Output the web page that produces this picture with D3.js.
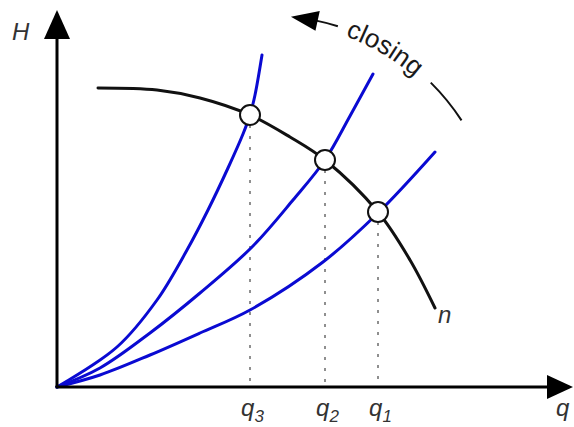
<!DOCTYPE html>
<html>
<head>
<meta charset="utf-8">
<script src="https://cdn.jsdelivr.net/npm/d3@7"></script>
<style>
  html, body { margin: 0; padding: 0; background: #fff; }
  svg { display: block; }
  text { font-family: "Liberation Sans", Arial, Helvetica, sans-serif; font-style: italic; fill: #333; }
</style>
</head>
<body>
<svg id="chart" width="574" height="427"></svg>
<script>
// ---- data (q, H) in arbitrary chart units ----
const pumpCurve = [[41,299],[100,297],[143,289],[193,272],[233,250],[268,227],[321,175],[353,127],[378,79]];
const system3 = [[0,0],[60,40],[100,87],[130,137],[151,177],[171,219],[186,253],[193,272],[198,292],[205,332]];
const system2 = [[0,0],[43,19],[93,54],[143,94],[195,140],[236,187],[268,227],[293,271],[316,313]];
const system1 = [[0,0],[43,12],[93,32],[143,54],[193,77],[266,125],[321,174],[378,235]];
const opQ = [193, 268, 321];
const opH = [272, 227, 175];
const opLabels = ["3", "2", "1"];
const axisLabels = { x: "q", y: "H" };
const curveLabel = "n";
const closingLabel = "closing";

const svg = d3.select("#chart");
const x = d3.scaleLinear().domain([0, 500]).range([57, 557]);
const y = d3.scaleLinear().domain([0, 350]).range([387, 37]);

const line = d3.line().x(d => x(d[0])).y(d => y(d[1])).curve(d3.curveCatmullRom.alpha(0.5));

// dotted guides
opQ.forEach((q, i) => {
  svg.append("line")
    .attr("x1", x(q)).attr("x2", x(q))
    .attr("y1", y(opH[i]) + 10).attr("y2", y(0) - 2)
    .attr("stroke", "#8f8f8f").attr("stroke-width", 2)
    .attr("stroke-dasharray", "3,8");
});

// system curves
[system1, system2, system3].forEach(s => {
  svg.append("path").attr("d", line(s))
    .attr("fill", "none").attr("stroke", "#0a0ad2").attr("stroke-width", 3)
    .attr("stroke-linecap", "round");
});

// pump curve
svg.append("path").attr("d", line(pumpCurve))
  .attr("fill", "none").attr("stroke", "#111").attr("stroke-width", 3)
  .attr("stroke-linecap", "round");

// axes
svg.append("line").attr("x1", x(0)).attr("y1", y(0)).attr("x2", x(0)).attr("y2", y(348))
  .attr("stroke", "#000").attr("stroke-width", 3);
svg.append("line").attr("x1", x(0) - 1.5).attr("y1", y(0)).attr("x2", x(490)).attr("y2", y(0))
  .attr("stroke", "#000").attr("stroke-width", 3);
svg.append("path").attr("d", `M${x(0)},${y(377)} L${x(0)-13},${y(348)} L${x(0)+13},${y(348)} Z`).attr("fill", "#000");
svg.append("path").attr("d", `M${x(516)},${y(0)} L${x(490)},${y(0)-12} L${x(490)},${y(0)+12} Z`).attr("fill", "#000");

// operating points
opQ.forEach((q, i) => {
  svg.append("circle").attr("cx", x(q)).attr("cy", y(opH[i])).attr("r", 10)
    .attr("fill", "#fff").attr("stroke", "#111").attr("stroke-width", 2);
});

// q labels
opQ.forEach((q, i) => {
  const t = svg.append("text").attr("x", x(q) + 2.5).attr("y", 416)
    .attr("text-anchor", "middle").attr("font-size", 24);
  t.append("tspan").text("q");
  t.append("tspan").attr("font-size", 17).attr("dy", 6).text(opLabels[i]);
});

// axis labels
svg.append("text").attr("x", 12).attr("y", 40).attr("font-size", 24).text(axisLabels.y);
svg.append("text").attr("x", 556).attr("y", 416).attr("font-size", 24).text(axisLabels.x);
const last = pumpCurve[pumpCurve.length - 1];
svg.append("text").attr("x", x(last[0]) + 3).attr("y", y(last[1]) + 15).attr("font-size", 24).text(curveLabel);

// "closing" arc annotation
const cx = x(211), cy = y(140.5), R = 231;
const pt = (deg, r) => [cx + r * Math.cos(deg * Math.PI / 180), cy - r * Math.sin(deg * Math.PI / 180)];
const arcPath = (a1, a2, r) => {
  const p1 = pt(a1, r), p2 = pt(a2, r);
  return `M${p1[0]},${p1[1]} A${r},${r} 0 0 1 ${p2[0]},${p2[1]}`;
};
svg.append("path").attr("d", arcPath(78.5, 72.4, R)).attr("fill", "none").attr("stroke", "#111").attr("stroke-width", 2);
svg.append("path").attr("d", arcPath(45.2, 33.1, R)).attr("fill", "none").attr("stroke", "#111").attr("stroke-width", 2);
// arrowhead
{
  const tip = pt(84.3, R), b = pt(77.6, R);
  const a = 77.6 * Math.PI / 180;
  const ux = Math.cos(a), uy = -Math.sin(a);
  const c1 = [b[0] + ux * 10, b[1] + uy * 10], c2 = [b[0] - ux * 10, b[1] - uy * 10];
  svg.append("path").attr("d", `M${tip[0]},${tip[1]} L${c1[0]},${c1[1]} L${c2[0]},${c2[1]} Z`).attr("fill", "#000");
}
svg.append("path").attr("id", "closingPath").attr("d", arcPath(75, 42, 224)).attr("fill", "none");
svg.append("text").attr("font-size", 26).style("font-style", "normal").style("fill", "#1a1a1a")
  .append("textPath").attr("href", "#closingPath").attr("startOffset", "47%").attr("text-anchor", "middle")
  .text(closingLabel);
</script>
</body>
</html>
